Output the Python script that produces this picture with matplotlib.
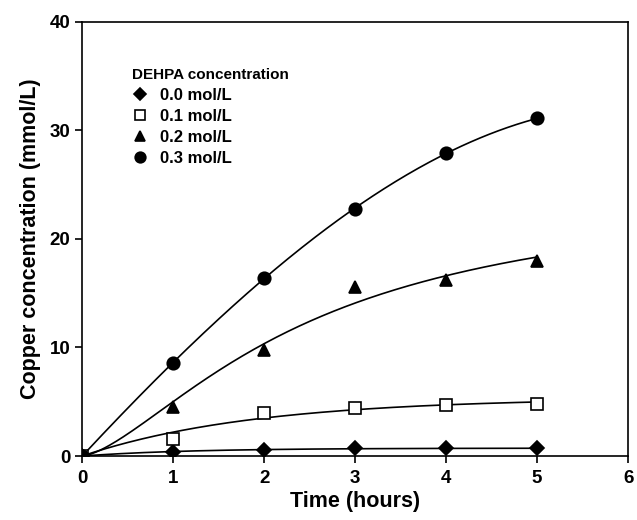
import matplotlib.pyplot as plt
import numpy as np
from matplotlib.lines import Line2D

plt.rcParams['font.family'] = 'Liberation Sans'
plt.rcParams['font.weight'] = 'bold'
plt.rcParams['font.size'] = 12
plt.rcParams['axes.linewidth'] = 1.2

time_h = [0, 1, 2, 3, 4, 5]
cu_00 = [0.0, 0.4, 0.6, 0.7, 0.7, 0.7]
cu_01 = [0.0, 1.6, 4.0, 4.4, 4.7, 4.8]
cu_02 = [0.0, 4.5, 9.8, 15.6, 16.2, 18.0]
cu_03 = [0.0, 8.6, 16.4, 22.8, 27.9, 31.1]
labels = ['0.0 mol/L', '0.1 mol/L', '0.2 mol/L', '0.3 mol/L']

series = [
    (cu_00, 'D', 'black', 7, 'exp'),
    (cu_01, 's', 'white', 8, 'exp'),
    (cu_02, '^', 'black', 8, 'hill'),
    (cu_03, 'o', 'black', 9, 'poly'),
]


def fit_curve(t, y, kind, tt):
    # smooth fitted curve from the data points
    y = np.asarray(y, dtype=float)
    if kind == 'poly':
        return np.polyval(np.polyfit(t, y, 3), tt)
    if kind == 'exp':
        best = None
        for b in np.linspace(0.01, 3, 600):
            g = 1 - np.exp(-b * t)
            a = np.dot(g, y) / np.dot(g, g)
            err = np.sum((a * g - y) ** 2)
            if best is None or err < best[0]:
                best = (err, a, b)
        _, a, b = best
        return a * (1 - np.exp(-b * tt))
    # hill: a * t^n / (k^n + t^n), mild exponent
    best = None
    for k in np.linspace(0.5, 10, 191):
        for n in np.linspace(1.35, 1.5, 7):
            g = t ** n / (k ** n + t ** n)
            a = np.dot(g, y) / np.dot(g, g)
            err = np.sum((a * g - y) ** 2)
            if best is None or err < best[0]:
                best = (err, a, k, n)
    _, a, k, n = best
    return a * tt ** n / (k ** n + tt ** n)


fig = plt.figure(figsize=(6.37, 5.20), dpi=100)
ax = fig.add_axes([0.129, 0.123, 0.857, 0.835])

t = np.array(time_h, dtype=float)
tt = np.linspace(0, 5, 200)
handles = []
for (vals, m, fc, ms, kind), lab in zip(series, labels):
    ax.plot(tt, fit_curve(t, vals, kind, tt), color='black', lw=1.2, zorder=2)
    ax.plot(t, vals, linestyle='none', marker=m, markersize=ms,
            markerfacecolor=fc, markeredgecolor='black', markeredgewidth=1.2, zorder=3)
    handles.append(Line2D([], [], linestyle='none', marker=m, markersize=ms * 0.85,
                          markerfacecolor=fc, markeredgecolor='black', markeredgewidth=1.2,
                          label=lab))

ax.set_xlim(0, 6)
ax.set_ylim(0, 40)
ax.set_xticks(range(0, 7))
ax.set_yticks(range(0, 41, 10))
ax.tick_params(direction='out', length=5, width=1.2, labelsize=13.5)
ax.tick_params(axis='x', pad=5)
for lbl in ax.get_xticklabels() + ax.get_yticklabels():
    lbl.set_fontweight('bold')

ax.set_xlabel('Time (hours)', fontsize=15.5, fontweight='bold', labelpad=3)
ax.set_ylabel('Copper concentration (mmol/L)', fontsize=15.5, fontweight='bold', labelpad=6)

leg = ax.legend(handles=handles, title='DEHPA concentration', loc='upper left',
                bbox_to_anchor=(0.076, 0.913), frameon=False, handlelength=1.0,
                handletextpad=0.7, labelspacing=0.36, borderpad=0,
                prop={'weight': 'bold', 'size': 12},
                title_fontproperties={'weight': 'bold', 'size': 11})
leg._legend_box.align = 'left'

plt.savefig('out.png', dpi=100)
